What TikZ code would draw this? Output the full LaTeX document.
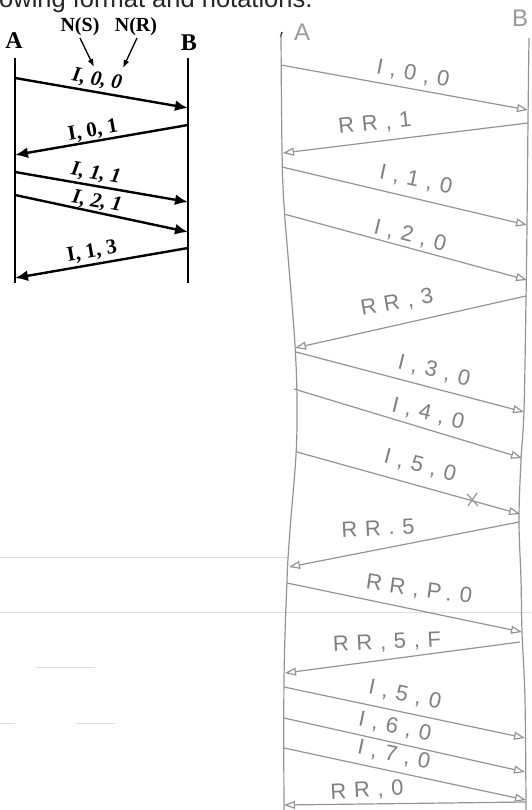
\documentclass[tikz,border=0pt]{standalone}
\usepackage{fontspec}
\setmainfont{Liberation Serif}
\newfontfamily\hwfont[LetterSpace=35]{Liberation Sans}
\newfontfamily\hwplain{Liberation Sans}
\newfontfamily\topfont{Liberation Sans}
\usetikzlibrary{arrows.meta}
\definecolor{hw}{gray}{0.50}
\definecolor{hwline}{gray}{0.58}
\definecolor{scan}{gray}{0.88}
\definecolor{toptxt}{gray}{0.15}
\tikzset{
  life/.style={line width=2.8pt, black},
  msg/.style={line width=2.4pt, black, -{Latex[length=13pt,width=11pt]}},
  ptr/.style={line width=1.3pt, black, -{Latex[length=8pt,width=6pt]}},
  lbl/.style={font=\bfseries\fontsize{21}{21}\selectfont, inner sep=0pt},
  lbli/.style={font=\bfseries\itshape\fontsize{21}{21}\selectfont, inner sep=0pt},
  hlife/.style={hwline, line width=1.2pt},
  hmsg/.style={hwline, line width=1.2pt, -{Triangle[open,length=11pt,width=8pt]}},
  hlbl/.style={hw, font=\hwfont\fontsize{22}{22}\selectfont, inner sep=0pt},
  scanline/.style={scan, line width=1pt},
}
\begin{document}
\begin{tikzpicture}[x=1pt,y=-1pt]
\useasboundingbox (0,0) rectangle (531,810);
\fill[white] (0,0) rectangle (531,810);

% cropped top text
\node[anchor=base west, inner sep=0pt, text=toptxt, font=\topfont\fontsize{25.5}{25.5}\selectfont] (toptext) at (-1,8) {owing format and notations.};

% faint scan artifacts
\draw[scanline] (0,557) -- (290,557);
\draw[scanline] (0,612) -- (531,612);
\draw[scanline] (35,667) -- (95,667);
\draw[scanline] (0,723) -- (15,723);
\draw[scanline] (75,723) -- (115,723);

% ================= left printed diagram =================
\node[font=\bfseries\fontsize{24}{24}\selectfont, inner sep=0pt] (lA) at (14,41) {A};
\node[font=\bfseries\fontsize{24}{24}\selectfont, inner sep=0pt] (lB) at (189,43) {B};
\node[font=\bfseries\fontsize{20}{20}\selectfont, inner sep=0pt] (ns) at (80,27) {N(S)};
\node[font=\bfseries\fontsize{20}{20}\selectfont, inner sep=0pt] (nr) at (136,27) {N(R)};

\coordinate (At) at (15,58);  \coordinate (Ab) at (15,283);
\coordinate (Bt) at (188,58); \coordinate (Bb) at (188,283);
\draw[life] (At) -- (Ab);
\draw[life] (Bt) -- (Bb);

\coordinate (ns1) at (80,38);  \coordinate (ns2) at (94,67);
\coordinate (nr1) at (137,38); \coordinate (nr2) at (123,68);
\draw[ptr] (ns1) -- (ns2);
\draw[ptr] (nr1) -- (nr2);

\coordinate (a1) at (15,78);   \coordinate (b1) at (188,108);
\coordinate (b2) at (188,125); \coordinate (a2) at (15,155);
\coordinate (a3) at (15,172);  \coordinate (b3) at (188,202);
\coordinate (a4) at (15,195);  \coordinate (b4) at (188,232);
\coordinate (b5) at (188,248); \coordinate (a5) at (15,278);
\draw[msg] (a1) -- (b1);
\draw[msg] (b2) -- (a2);
\draw[msg] (a3) -- (b3);
\draw[msg] (a4) -- (b4);
\draw[msg] (b5) -- (a5);

\node[lbli, rotate=-10] (t1) at (97,80)  {I, 0, 0};
\node[lbl,  rotate=10]  (t2) at (93,131) {I, 0, 1};
\node[lbli, rotate=-10] (t3) at (96,174) {I, 1, 1};
\node[lbli, rotate=-10] (t4) at (97,202) {I, 2, 1};
\node[lbl,  rotate=10]  (t5) at (92,252) {I, 1, 3};

% ================= right handwritten diagram =================
\node[hw!80!white, font=\hwplain\fontsize{24}{24}\selectfont, inner sep=0pt] (hA) at (302,32) {A};
\node[hw!80!white, font=\hwplain\fontsize{24}{24}\selectfont, inner sep=0pt] (hB) at (520,18) {B};
\draw[black!80, line width=1.4pt] (280.5,37) -- (282,32);

\draw[hlife] plot[smooth, tension=0.6] coordinates {(281,35) (282,150) (284,205) (290,280) (295,345) (297,400) (296,455) (290,530) (287,580) (284,680) (284,810)};
\draw[hlife] plot[smooth, tension=0.6] coordinates {(529,38) (528,120) (527,225) (526,300) (524,410) (521,460) (519,520) (521,580) (522,632) (525,700) (526,810)};

\coordinate (A1) at (281,65);   \coordinate (B1) at (528,110);
\coordinate (B2) at (528,123);  \coordinate (A2) at (283,153);
\coordinate (A3) at (282,167);  \coordinate (B3) at (527,225);
\coordinate (A4) at (284,214);  \coordinate (B4) at (527,280);
\coordinate (B5) at (526,296);  \coordinate (A5) at (295,348);
\coordinate (A6) at (296,352);  \coordinate (B6) at (524,412);
\coordinate (A7) at (294,389);  \coordinate (B7) at (522,458);
\coordinate (A8) at (297,452);  \coordinate (B8) at (520,514);
\coordinate (B9) at (519,522);  \coordinate (A9) at (289,567);
\coordinate (A10) at (287,583); \coordinate (B10) at (522,632);
\coordinate (B11) at (520,642); \coordinate (A11) at (285,673);
\coordinate (A12) at (284,687); \coordinate (B12) at (525,738);
\coordinate (A13) at (284,718); \coordinate (B13) at (525,772);
\coordinate (A14) at (284,748); \coordinate (B14) at (526,800);
\coordinate (B15) at (526,802); \coordinate (A15) at (284,805);

\draw[hmsg] (A1) -- (B1);
\draw[hmsg] (B2) -- (A2);
\draw[hmsg] (A3) -- (B3);
\draw[hmsg] (A4) -- (B4);
\draw[hmsg] (B5) -- (A5);
\draw[hmsg] (A6) -- (B6);
\draw[hmsg] (A7) -- (B7);
\draw[hmsg] (A8) -- (B8);
\draw[hmsg] (B9) -- (A9);
\draw[hmsg] (A10) -- (B10);
\draw[hmsg] (B11) -- (A11);
\draw[hmsg] (A12) -- (B12);
\draw[hmsg] (A13) -- (B13);
\draw[hmsg] (A14) -- (B14);
\draw[hmsg] (B15) -- (A15);

% lost-frame cross
\draw[hwline, line width=1.2pt] (467,494) -- (478,506);
\draw[hwline, line width=1.2pt] (468,506) -- (477,493);

\node[hlbl, rotate=-11] (h1)  at (413,74)  {I,0,0};
\node[hlbl, rotate=6]   (h2)  at (375,124) {RR,1};
\node[hlbl, rotate=-12] (h3)  at (416,180) {I,1,0};
\node[hlbl, rotate=-14] (h4)  at (410,236) {I,2,0};
\node[hlbl, rotate=10]  (h5)  at (397,303) {RR,3};
\node[hlbl, rotate=-14] (h6)  at (434,371) {I,3,0};
\node[hlbl, rotate=-14] (h7)  at (428,414) {I,4,0};
\node[hlbl, rotate=-15] (h8)  at (420,466) {I,5,0};
\node[hlbl, rotate=3]   (h9)  at (378,528) {RR.5};
\node[hlbl, rotate=-8]  (h10) at (419,590) {RR,P.0};
\node[hlbl, rotate=3]   (h11) at (387,643) {RR,5,F};
\node[hlbl, rotate=-12] (h12) at (405,695) {I,5,0};
\node[hlbl, rotate=-12] (h13) at (395,727) {I,6,0};
\node[hlbl, rotate=-12] (h14) at (394,755) {I,7,0};
\node[hlbl, rotate=3]   (h15) at (367,791) {RR,0};
\end{tikzpicture}
\end{document}
